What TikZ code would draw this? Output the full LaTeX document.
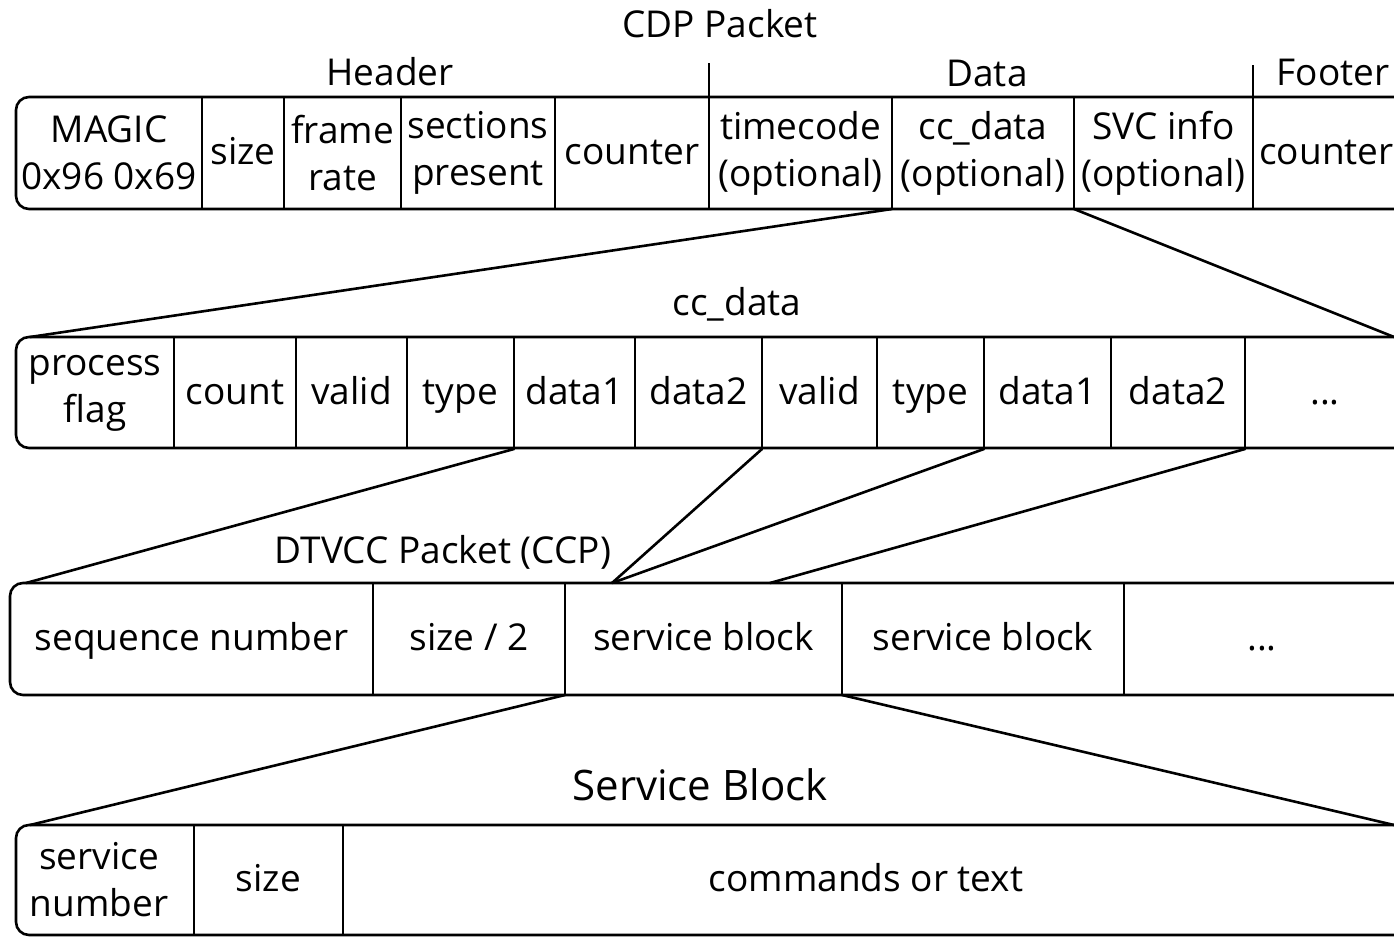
\documentclass[tikz,border=0pt]{standalone}
\usepackage{fontspec}
\setmainfont{Open Sans}
\begin{document}
\begin{tikzpicture}[x=1pt,y=-1pt,
  every node/.style={inner sep=0pt,outer sep=0pt},
  txt/.style={font=\fontsize{37}{47}\selectfont,align=center},
  cell/.style={txt,anchor=north west,minimum height=112pt},
  one/.style={text height=30pt,text depth=8pt},
  lbl/.style={font=\fontsize{37}{47}\selectfont,anchor=base},
  bigl/.style={font=\fontsize{42}{50}\selectfont,anchor=base},
  frame/.style={line width=2.6pt,rounded corners=13pt},
  ln/.style={line width=2.6pt,line cap=round}]
\useasboundingbox (0,0) rectangle (1394,937);
\clip (0,0) rectangle (1394,937);
\fill[white] (0,0) rectangle (1394,937);

% ---------- labels ----------
\node[lbl] (tcdp) at (720,37) {CDP Packet};
\node[lbl] (thdr) at (390,85) {Header};
\node[lbl] (tdata) at (987,86) {Data};
\node[lbl] (tfoot) at (1333,85) {Footer};
\node[lbl] (tcc) at (737,315) {cc\_data};
\node[lbl] (tdtv) at (443,563) {DTVCC Packet (CCP)};
\node[bigl] (tsb) at (700,800) {Service Block};

% ---------- row 1 : CDP packet ----------
\node[cell,minimum width=186pt] (magic) at (16,97) {MAGIC\\0x96 0x69};
\node[cell,one,minimum width=82pt]  (size1) at (202,97) {size};
\node[cell,minimum width=117pt] (frate) at (284,97) {frame\\rate};
\node[cell,minimum width=154pt] (secp) at (401,97) {sections\\present};
\node[cell,one,minimum width=154pt] (cnt1) at (555,97) {counter};
\node[cell,minimum width=183pt] (tcode) at (709,97) {timecode\\(optional)};
\node[cell,minimum width=182pt] (ccd) at (892,97) {cc\_data\\(optional)};
\node[cell,minimum width=179pt] (svc) at (1074,97) {SVC info\\(optional)};
\node[cell,one,minimum width=147pt] (cnt2) at (1253,97) {counter};
\draw[frame] (16,97) rectangle (1430,209);
\foreach \c in {magic,size1,frate,secp,cnt1,tcode,ccd,svc}
  \draw[line width=2.6pt] (\c.north east) -- (\c.south east);
\coordinate (tickA) at (709,63);
\coordinate (tickB) at (1253,65);
\draw[line width=2.6pt] (tickA) -- (tcode.north west);
\draw[line width=2.6pt] (tickB) -- (cnt2.north west);

% ---------- row 2 : cc_data ----------
\node[cell,minimum width=158pt] (pflag) at (16,337) {process\\flag};
\node[cell,one,minimum width=122pt] (count) at (174,337) {count};
\node[cell,one,minimum width=111pt] (valA) at (296,337) {valid};
\node[cell,one,minimum width=107pt] (typA) at (407,337) {type};
\node[cell,one,minimum width=121pt] (d1A) at (514,337) {data1};
\node[cell,one,minimum width=127pt] (d2A) at (635,337) {data2};
\node[cell,one,minimum width=115pt] (valB) at (762,337) {valid};
\node[cell,one,minimum width=107pt] (typB) at (877,337) {type};
\node[cell,one,minimum width=127pt] (d1B) at (984,337) {data1};
\node[cell,one,minimum width=134pt] (d2B) at (1111,337) {data2};
\node[cell,one,minimum width=160pt] (ellA) at (1245,337) {...};
\draw[frame] (16,337) rectangle (1430,448);
\foreach \c in {pflag,count,valA,typA,d1A,d2A,valB,typB,d1B,d2B}
  \draw[line width=2.6pt] (\c.north east) -- (\c.south east);

% ---------- row 3 : DTVCC packet ----------
\node[cell,one,minimum width=363pt] (seq) at (10,583) {sequence number};
\node[cell,one,minimum width=192pt] (half) at (373,583) {size / 2};
\node[cell,one,minimum width=277pt] (sbA) at (565,583) {service block};
\node[cell,one,minimum width=282pt] (sbB) at (842,583) {service block};
\node[cell,one,minimum width=276pt] (ellB) at (1124,583) {...};
\draw[frame] (10,583) rectangle (1430,695);
\foreach \c in {seq,half,sbA,sbB}
  \draw[line width=2.6pt] (\c.north east) -- (\c.south east);

% ---------- row 4 : service block ----------
\node[cell,minimum width=166pt,minimum height=110pt] (snum) at (16,825) {service\\number};
\node[cell,one,minimum width=149pt,minimum height=110pt] (ssz) at (194,825) {size};
\node[cell,one,minimum width=1046pt,minimum height=110pt] (cmd) at (343,825) {commands or text};
\draw[frame] (16,825) rectangle (1430,935);
\draw[line width=2.6pt] (ssz.north west) -- (ssz.south west);
\draw[line width=2.6pt] (ssz.north east) -- (ssz.south east);

% ---------- zoom connectors ----------
\coordinate (r2L) at (30,337);
\coordinate (r2R) at (1394,337);
\coordinate (r3L) at (26,583);
\coordinate (r3M) at (612,583);
\coordinate (r3N) at (770,583);
\coordinate (r4L) at (30,825);
\coordinate (r4R) at (1394,825);
\draw[ln] (ccd.south west) -- (r2L);
\draw[ln] (svc.south west) -- (r2R);
\draw[ln] (d1A.south west) -- (r3L);
\draw[ln] (valB.south west) -- (r3M);
\draw[ln] (d1B.south west) -- (r3M);
\draw[ln] (ellA.south west) -- (r3N);
\draw[ln] (sbA.south west) -- (r4L);
\draw[ln] (sbB.south west) -- (r4R);
\end{tikzpicture}
\end{document}
